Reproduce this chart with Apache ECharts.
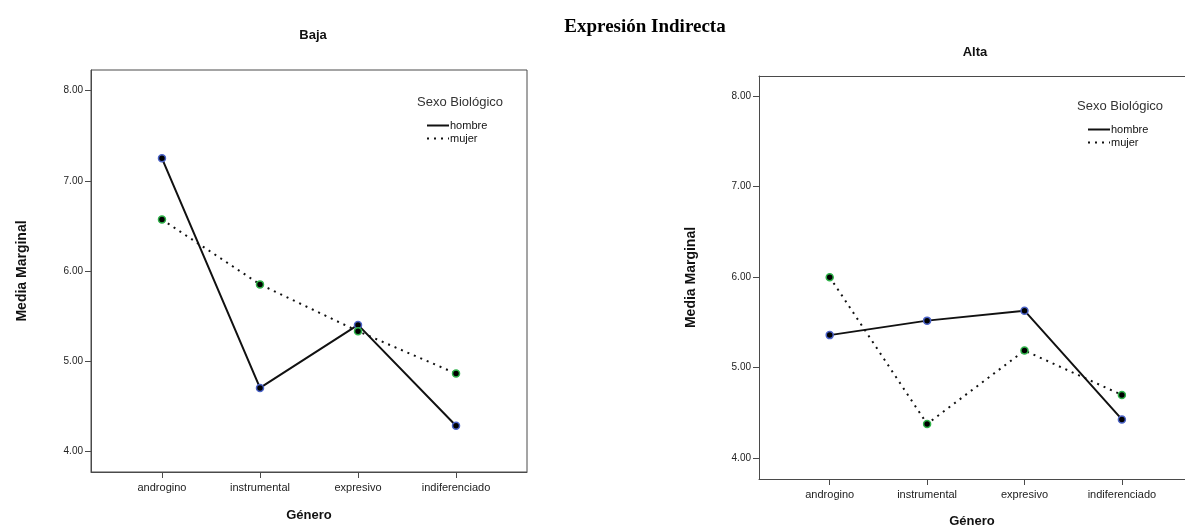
<!DOCTYPE html>
<html>
<head>
<meta charset="utf-8">
<script src="https://cdn.jsdelivr.net/npm/echarts@6/dist/echarts.min.js"></script>
<style>
  html, body { margin: 0; padding: 0; background: #fff; }
  #chart { width: 1185px; height: 527px; }
</style>
</head>
<body>
<div id="chart"></div>
<script>
// Estimated marginal means of indirect expression, by gender role and biological sex
const categories = ['androgino', 'instrumental', 'expresivo', 'indiferenciado'];
const yTicks = [4, 5, 6, 7, 8];

// Panel "Baja"
const bajaHombre = [7.25, 4.70, 5.40, 4.28];
const bajaMujer  = [6.57, 5.85, 5.33, 4.86];

// Panel "Alta"
const altaHombre = [5.36, 5.52, 5.63, 4.43];
const altaMujer  = [6.00, 4.38, 5.19, 4.70];

const frameColor = '#4a4a4a';
const sansFont = 'Liberation Sans, Arial, sans-serif';

function pairs(values) {
  return values.map((v, i) => [i, v]);
}

function xAxisFor(gridIndex, min, max, nameGap) {
  return {
    type: 'value', gridIndex: gridIndex,
    min: min, max: max,
    name: 'Género', nameLocation: 'middle', nameGap: nameGap,
    nameTextStyle: { fontFamily: sansFont, fontWeight: 'bold', fontSize: 13, color: '#111' },
    axisLine: { show: true, onZero: false, lineStyle: { color: frameColor, width: 1 } },
    axisTick: { show: true, length: 6, customValues: [0, 1, 2, 3], lineStyle: { color: frameColor } },
    axisLabel: {
      customValues: [0, 1, 2, 3], margin: 10,
      fontFamily: sansFont, fontSize: 11, color: '#222',
      formatter: v => categories[Math.round(v)]
    },
    splitLine: { show: false }
  };
}

// plain line along the top edge of the second panel
function topEdge(gridIndex) {
  return {
    type: 'value', gridIndex: gridIndex, position: 'top',
    min: 0, max: 1,
    axisLine: { show: true, onZero: false, lineStyle: { color: frameColor, width: 1 } },
    axisTick: { show: false }, axisLabel: { show: false }, splitLine: { show: false }
  };
}

function yAxisFor(gridIndex, min, max, nameGap) {
  return {
    type: 'value', gridIndex: gridIndex,
    min: min, max: max,
    name: 'Media Marginal', nameLocation: 'middle', nameGap: nameGap,
    nameTextStyle: { fontFamily: sansFont, fontWeight: 'bold', fontSize: 14, color: '#111' },
    axisLine: { show: true, onZero: false, lineStyle: { color: frameColor, width: 1 } },
    axisTick: { show: true, length: 6, customValues: yTicks, lineStyle: { color: frameColor } },
    axisLabel: {
      customValues: yTicks, margin: 8,
      fontFamily: sansFont, fontSize: 10, color: '#222',
      formatter: v => v.toFixed(2)
    },
    splitLine: { show: false }
  };
}

function lineSeries(name, values, axisIndex, dotted, borderColor) {
  return {
    name: name, type: 'line',
    xAxisIndex: axisIndex, yAxisIndex: axisIndex,
    data: pairs(values),
    symbol: 'circle', symbolSize: 7,
    itemStyle: { color: '#000', borderColor: borderColor, borderWidth: 1.5 },
    lineStyle: dotted
      ? { color: '#111', width: 2, type: [2, 5] }
      : { color: '#111', width: 2, type: 'solid' },
    emphasis: { disabled: true },
    animation: false
  };
}

function legendAt(left, top) {
  return {
    orient: 'vertical', left: left, top: top,
    itemWidth: 22, itemHeight: 10, itemGap: 2,
    data: ['hombre', 'mujer'],
    itemStyle: { opacity: 0 },
    textStyle: { fontFamily: sansFont, fontSize: 11, color: '#111', padding: [0, 0, 0, -4] },
    selectedMode: false
  };
}

const chart = echarts.init(document.getElementById('chart'), null, { renderer: 'canvas' });

chart.setOption({
  backgroundColor: '#fff',
  animation: false,
  title: [
    { text: 'Expresión Indirecta', left: 640, top: 13, textAlign: 'center',
      textStyle: { fontFamily: 'Liberation Serif, Times New Roman, serif', fontWeight: 'bold', fontSize: 19, color: '#000' } },
    { text: 'Baja', left: 308, top: 24, textAlign: 'center',
      textStyle: { fontFamily: sansFont, fontWeight: 'bold', fontSize: 13, color: '#111' } },
    { text: 'Alta', left: 970, top: 41, textAlign: 'center',
      textStyle: { fontFamily: sansFont, fontWeight: 'bold', fontSize: 13, color: '#111' } },
    { text: 'Sexo Biológico', left: 455, top: 91, textAlign: 'center',
      textStyle: { fontFamily: sansFont, fontWeight: 'normal', fontSize: 13, color: '#333' } },
    { text: 'Sexo Biológico', left: 1115, top: 95, textAlign: 'center',
      textStyle: { fontFamily: sansFont, fontWeight: 'normal', fontSize: 13, color: '#333' } }
  ],
  legend: [legendAt(421, 115), legendAt(1082, 119)],
  grid: [
    { left: 91, top: 70, width: 436, height: 402, outerBoundsMode: 'none',
      show: true, borderColor: frameColor, borderWidth: 1, backgroundColor: 'transparent' },
    { left: 759, top: 76, width: 426, height: 403, outerBoundsMode: 'none', show: false }
  ],
  xAxis: [
    xAxisFor(0, -0.724, 3.724, 37),
    xAxisFor(1, -0.726, 3.648, 36),
    topEdge(1)
  ],
  yAxis: [yAxisFor(0, 3.767, 8.23, 62), yAxisFor(1, 3.772, 8.22, 61)],
  series: [
    lineSeries('hombre', bajaHombre, 0, false, '#4b63c8'),
    lineSeries('mujer', bajaMujer, 0, true, '#2fb34a'),
    lineSeries('hombre', altaHombre, 1, false, '#4b63c8'),
    lineSeries('mujer', altaMujer, 1, true, '#2fb34a')
  ]
});
</script>
</body>
</html>
